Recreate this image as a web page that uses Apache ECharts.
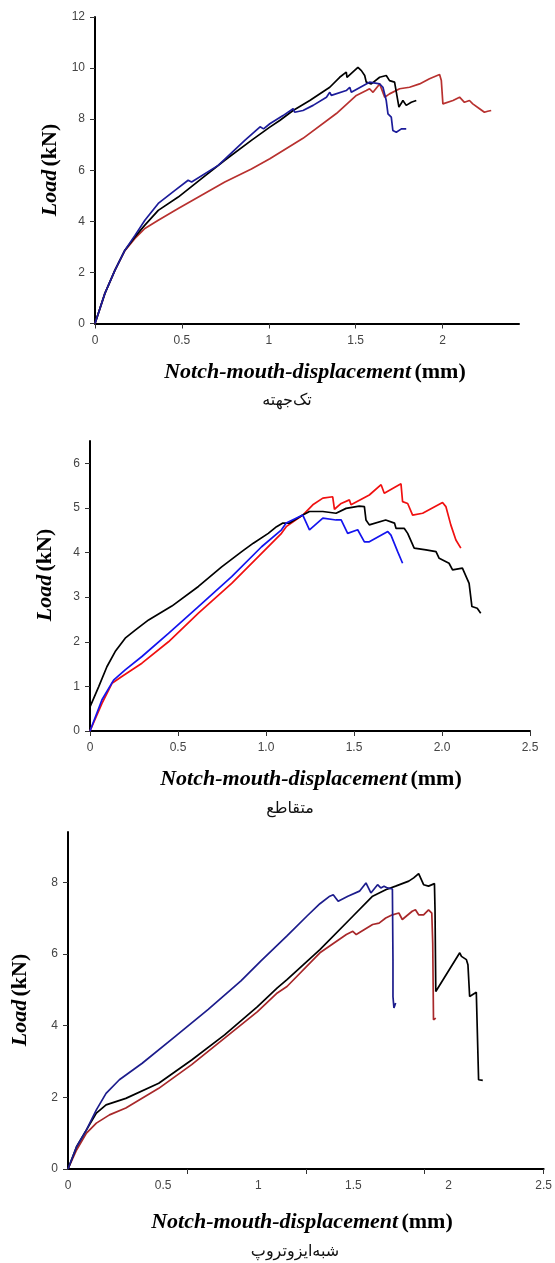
<!DOCTYPE html>
<html>
<head>
<meta charset="utf-8">
<script src="https://cdn.jsdelivr.net/npm/echarts@6/dist/echarts.min.js"></script>
<style>
  html, body { margin: 0; padding: 0; background: #fff; }
  #main { width: 555px; height: 1263px; }
</style>
</head>
<body>
<div id="main"></div>
<script>
// tick labels for each panel
const xLabels1 = [0, 0.5, 1, 1.5, 2];
const yLabels1 = [0, 2, 4, 6, 8, 10, 12];
const xLabels2 = [0, 0.5, 1, 1.5, 2, 2.5];
const yLabels2 = [0, 1, 2, 3, 4, 5, 6];
const xLabels3 = [0, 0.5, 1, 1.5, 2, 2.5];
const xTicks3 = [0.625, 1.25, 1.875, 2.5];
const yLabels3 = [0, 2, 4, 6, 8];

const captions = ['تک‌جهته', 'متقاطع', 'شبه‌ایزوتروپ'];

// panel 1 (تک‌جهته) - [displacement mm, load kN]
const uniBlack = [[0,0],[0.057,1.18],[0.115,2.09],[0.172,2.87],[0.23,3.39],[0.287,3.85],[0.364,4.43],[0.479,4.95],[0.613,5.67],[0.747,6.39],[0.9,7.17],[1.006,7.69],[1.063,7.95],[1.14,8.34],[1.236,8.73],[1.351,9.25],[1.408,9.64],[1.446,9.84],[1.45,9.64],[1.513,10.03],[1.533,9.9],[1.552,9.71],[1.561,9.45],[1.59,9.38],[1.638,9.64],[1.676,9.71],[1.695,9.51],[1.724,9.45],[1.734,9.38],[1.749,8.47],[1.772,8.73],[1.791,8.54],[1.82,8.66],[1.849,8.73]];
const uniBlue = [[0,0],[0.057,1.18],[0.115,2.09],[0.172,2.87],[0.23,3.45],[0.287,4.04],[0.364,4.7],[0.46,5.21],[0.536,5.61],[0.556,5.54],[0.709,6.19],[0.862,7.17],[0.95,7.7],[0.97,7.62],[1.006,7.82],[1.082,8.14],[1.14,8.41],[1.149,8.27],[1.197,8.34],[1.255,8.54],[1.332,8.86],[1.351,9.05],[1.36,8.93],[1.446,9.12],[1.466,9.25],[1.475,9.05],[1.561,9.38],[1.58,9.45],[1.638,9.38],[1.657,9.25],[1.676,8.73],[1.686,8.21],[1.705,8.08],[1.714,7.56],[1.734,7.49],[1.763,7.62],[1.791,7.62]];
const uniRed = [[0,0],[0.057,1.18],[0.115,2.09],[0.172,2.85],[0.23,3.33],[0.287,3.72],[0.364,4.04],[0.479,4.5],[0.613,5.02],[0.747,5.54],[0.9,6.05],[1.006,6.45],[1.197,7.25],[1.389,8.22],[1.504,8.93],[1.561,9.12],[1.58,9.19],[1.6,9.05],[1.638,9.38],[1.667,8.86],[1.695,8.99],[1.753,9.19],[1.81,9.25],[1.868,9.38],[1.925,9.58],[1.983,9.75],[1.993,9.51],[2.002,8.6],[2.06,8.73],[2.098,8.86],[2.126,8.66],[2.155,8.73],[2.174,8.6],[2.213,8.41],[2.241,8.27],[2.26,8.31],[2.28,8.34]];

// panel 2 (متقاطع)
const crossBlack = [[0,0.54],[0.049,0.99],[0.096,1.44],[0.143,1.78],[0.2,2.08],[0.257,2.26],[0.333,2.49],[0.465,2.8],[0.616,3.24],[0.748,3.68],[0.862,4.02],[0.928,4.21],[1.013,4.43],[1.06,4.58],[1.096,4.66],[1.134,4.66],[1.209,4.84],[1.247,4.92],[1.323,4.92],[1.398,4.88],[1.455,4.99],[1.53,5.04],[1.559,5.03],[1.568,4.73],[1.587,4.62],[1.68,4.73],[1.73,4.66],[1.739,4.54],[1.786,4.54],[1.805,4.43],[1.842,4.1],[1.909,4.06],[1.966,4.02],[1.984,3.87],[2.04,3.76],[2.06,3.61],[2.116,3.65],[2.126,3.65],[2.154,3.31],[2.17,2.79],[2.2,2.75],[2.22,2.64]];
const crossBlue = [[0,0],[0.068,0.7],[0.134,1.14],[0.2,1.37],[0.295,1.67],[0.446,2.19],[0.616,2.79],[0.805,3.46],[0.975,4.13],[1.088,4.51],[1.115,4.66],[1.209,4.84],[1.219,4.8],[1.247,4.51],[1.323,4.77],[1.398,4.73],[1.427,4.73],[1.464,4.43],[1.521,4.51],[1.559,4.24],[1.587,4.24],[1.692,4.47],[1.71,4.39],[1.748,4.02],[1.776,3.76]];
const crossRed = [[0,0],[0.068,0.62],[0.125,1.07],[0.181,1.22],[0.295,1.52],[0.446,2.0],[0.616,2.64],[0.805,3.31],[0.975,3.98],[1.088,4.43],[1.115,4.58],[1.209,4.84],[1.266,5.07],[1.323,5.22],[1.379,5.25],[1.389,4.97],[1.427,5.1],[1.474,5.18],[1.483,5.07],[1.587,5.29],[1.654,5.52],[1.672,5.33],[1.767,5.54],[1.776,5.14],[1.805,5.1],[1.833,4.84],[1.89,4.88],[2.003,5.12],[2.022,5.03],[2.05,4.62],[2.079,4.28],[2.107,4.1]];

// panel 3 (شبه‌ایزوتروپ)
const quasiBlue = [[0,0],[0.045,0.62],[0.097,1.09],[0.149,1.65],[0.2,2.11],[0.27,2.49],[0.39,2.95],[0.564,3.7],[0.737,4.45],[0.909,5.25],[1.013,5.8],[1.151,6.5],[1.255,7.05],[1.324,7.4],[1.376,7.61],[1.394,7.65],[1.42,7.47],[1.471,7.61],[1.532,7.75],[1.566,7.98],[1.575,7.96],[1.592,7.7],[1.627,7.93],[1.644,7.84],[1.661,7.89],[1.679,7.84],[1.705,7.81],[1.708,5.84],[1.708,4.81],[1.713,4.49],[1.722,4.63]];
const quasiBlack = [[0,0],[0.045,0.62],[0.097,1.09],[0.149,1.56],[0.2,1.79],[0.304,1.97],[0.477,2.39],[0.65,3.04],[0.823,3.74],[0.996,4.53],[1.1,5.05],[1.151,5.28],[1.324,6.12],[1.497,7.05],[1.601,7.61],[1.67,7.79],[1.722,7.89],[1.791,8.03],[1.817,8.12],[1.843,8.24],[1.852,8.21],[1.869,7.93],[1.895,7.89],[1.926,7.96],[1.929,7.23],[1.933,4.95],[1.938,4.91],[2.059,6.03],[2.068,5.93],[2.094,5.84],[2.102,5.7],[2.111,4.81],[2.12,4.77],[2.146,4.93],[2.151,4.95],[2.158,2.49],[2.163,2.44],[2.18,2.47]];
const quasiRed = [[0,0],[0.045,0.53],[0.097,1.0],[0.149,1.28],[0.218,1.51],[0.304,1.7],[0.477,2.25],[0.65,2.91],[0.823,3.65],[0.996,4.39],[1.1,4.91],[1.151,5.09],[1.324,6.03],[1.463,6.54],[1.497,6.63],[1.515,6.54],[1.601,6.82],[1.635,6.86],[1.67,7.0],[1.705,7.09],[1.739,7.14],[1.757,6.96],[1.809,7.19],[1.826,7.23],[1.843,7.09],[1.869,7.09],[1.895,7.23],[1.912,7.14],[1.917,6.3],[1.921,4.16],[1.926,4.11],[1.933,4.21]];

const chart = echarts.init(document.getElementById('main'));

const labelStyle = { color: '#444', fontSize: 12, fontFamily: 'Liberation Sans' };
const lineAxis = { lineStyle: { color: '#000', width: 2 } };

function xAxisFor(idx, max, labels, ticks, fmt) {
  return {
    type: 'value', gridIndex: idx, min: 0, max: max,
    axisLine: lineAxis,
    axisTick: { show: true, length: 5, customValues: ticks, lineStyle: { color: '#333' } },
    axisLabel: Object.assign({ customValues: labels, margin: 11, formatter: fmt }, labelStyle),
    splitLine: { show: false }
  };
}
function yAxisFor(idx, max, labels) {
  return {
    type: 'value', gridIndex: idx, min: 0, max: max,
    axisLine: Object.assign({ show: true }, lineAxis),
    axisTick: { show: true, length: 5, customValues: labels, lineStyle: { color: '#333' } },
    axisLabel: Object.assign({ customValues: labels, margin: 10 }, labelStyle),
    splitLine: { show: false }
  };
}
function line(name, idx, data, color) {
  return {
    name: name, type: 'line', xAxisIndex: idx, yAxisIndex: idx,
    data: data, showSymbol: false, smooth: false,
    lineStyle: { color: color, width: 1.7 }, animation: false
  };
}

const nameRich = {
  i: { fontFamily: 'Liberation Serif', fontStyle: 'italic', fontWeight: 'bold', fontSize: 22, fill: '#000' },
  b: { fontFamily: 'Liberation Serif', fontWeight: 'bold', fontSize: 22, fill: '#000' }
};
function yName(x, y) {
  return { type: 'text', x: x, y: y, rotation: Math.PI / 2,
    style: { text: '{i|Load} {b|(kN)}', rich: nameRich, align: 'center', verticalAlign: 'middle' } };
}
function xName(x, y) {
  return { type: 'text', x: x, y: y,
    style: { text: '{i|Notch-mouth-displacement} {b|(mm)}', rich: nameRich, align: 'center', verticalAlign: 'middle' } };
}
function caption(x, y, t) {
  return { type: 'text', x: x, y: y,
    style: { text: t, fontFamily: 'DejaVu Sans', fontSize: 16, fill: '#111', align: 'center', verticalAlign: 'middle' } };
}

const fmtPlain = v => String(v);
const fmtOne = v => (v === 0 ? '0' : v.toFixed(1));

const option = {
  backgroundColor: '#fff',
  animation: false,
  grid: [
    { left: 95, top: 17, width: 424, height: 306.5 },
    { left: 90, top: 441, width: 440, height: 290 },
    { left: 68, top: 832, width: 482, height: 337 }
  ],
  xAxis: [
    xAxisFor(0, 2.44, xLabels1, xLabels1, fmtPlain),
    xAxisFor(1, 2.5, xLabels2, xLabels2, fmtOne),
    xAxisFor(2, 2.5, xLabels3, xTicks3, fmtPlain)
  ],
  yAxis: [
    yAxisFor(0, 12, yLabels1),
    yAxisFor(1, 6.5, yLabels2),
    yAxisFor(2, 9.4, yLabels3)
  ],
  series: [
    line('uni-red', 0, uniRed, '#b8312f'),
    line('uni-black', 0, uniBlack, '#000000'),
    line('uni-blue', 0, uniBlue, '#1c1c9a'),
    line('cross-red', 1, crossRed, '#f01010'),
    line('cross-black', 1, crossBlack, '#000000'),
    line('cross-blue', 1, crossBlue, '#1414ee'),
    line('quasi-red', 2, quasiRed, '#a8282a'),
    line('quasi-black', 2, quasiBlack, '#000000'),
    line('quasi-blue', 2, quasiBlue, '#1c1c8c')
  ],
  graphic: [
    yName(50, 170), xName(315, 372), caption(287, 401, captions[0]),
    yName(45, 575), xName(311, 779), caption(290, 809, captions[1]),
    yName(20, 1000), xName(302, 1222), caption(295, 1252, captions[2])
  ]
};

chart.setOption(option);
</script>
</body>
</html>
